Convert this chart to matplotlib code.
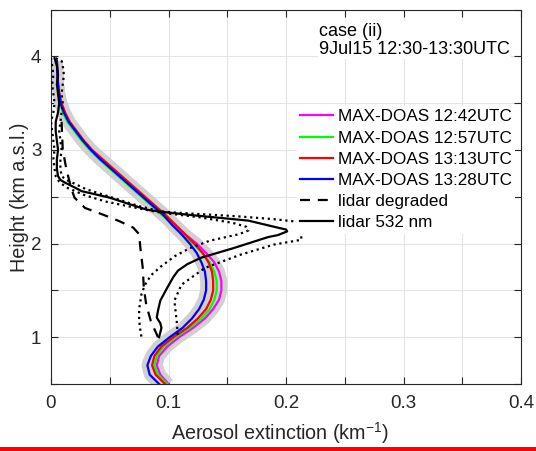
import matplotlib
matplotlib.use("Agg")
import matplotlib.pyplot as plt
from matplotlib.lines import Line2D
from matplotlib.patches import Rectangle
from matplotlib.ticker import MultipleLocator, FixedLocator

plt.rcParams['font.family'] = ['Liberation Sans', 'DejaVu Sans']
plt.rcParams['mathtext.default'] = 'regular'

# ---------------- data ----------------
height_doas = [0.5, 0.6, 0.7, 0.8, 0.9, 1.0, 1.1, 1.2, 1.3, 1.4, 1.5, 1.6, 1.7, 1.8, 1.9, 2.0,
               2.1, 2.2, 2.3, 2.4, 2.5, 2.6, 2.7, 2.8, 2.9, 3.0, 3.1, 3.2, 3.3, 3.4, 3.5, 3.6,
               3.7, 3.8, 3.95]
doas_1242 = [0.100, 0.093, 0.090, 0.092, 0.099, 0.109, 0.121, 0.131, 0.138, 0.143, 0.145, 0.145,
             0.143, 0.139, 0.132, 0.124, 0.114, 0.105, 0.096, 0.087, 0.078, 0.069, 0.060, 0.051,
             0.042, 0.034, 0.027, 0.021, 0.015, 0.011, 0.008, 0.007, 0.006, 0.0055, 0.005]
doas_1257 = [0.099, 0.091, 0.088, 0.090, 0.096, 0.106, 0.118, 0.128, 0.135, 0.139, 0.141, 0.141,
             0.139, 0.135, 0.129, 0.121, 0.112, 0.104, 0.095, 0.086, 0.077, 0.068, 0.059, 0.050,
             0.041, 0.033, 0.026, 0.020, 0.014, 0.010, 0.008, 0.0065, 0.006, 0.0055, 0.005]
doas_1313 = [0.097, 0.089, 0.086, 0.088, 0.094, 0.104, 0.116, 0.125, 0.132, 0.136, 0.138, 0.138,
             0.137, 0.134, 0.129, 0.122, 0.114, 0.106, 0.098, 0.089, 0.080, 0.071, 0.062, 0.053,
             0.044, 0.035, 0.028, 0.022, 0.016, 0.012, 0.009, 0.007, 0.006, 0.0055, 0.005]
doas_1328 = [0.092, 0.084, 0.082, 0.085, 0.091, 0.101, 0.112, 0.120, 0.126, 0.130, 0.132, 0.132,
             0.131, 0.128, 0.124, 0.118, 0.111, 0.103, 0.096, 0.087, 0.078, 0.069, 0.060, 0.051,
             0.042, 0.034, 0.027, 0.021, 0.015, 0.011, 0.008, 0.007, 0.006, 0.0055, 0.005]

lidar_h = [3.98, 3.9, 3.8, 3.7, 3.6, 3.5, 3.4, 3.3, 3.2, 3.1, 3.0, 2.9, 2.8, 2.72, 2.68, 2.65,
           2.60, 2.56, 2.49, 2.42, 2.36, 2.34, 2.31, 2.29, 2.245, 2.17, 2.15, 2.13, 2.09, 2.07,
           1.95, 1.85, 1.78, 1.71, 1.64, 1.53, 1.39, 1.28, 1.21, 1.15, 1.10, 1.05, 1.0]
lidar_ext = [0.003, 0.005, 0.006, 0.005, 0.006, 0.007, 0.006, 0.004, 0.004, 0.005, 0.006, 0.005,
             0.005, 0.006, 0.008, 0.012, 0.020, 0.026, 0.050, 0.067, 0.082, 0.094, 0.115, 0.131,
             0.168, 0.193, 0.200, 0.201, 0.193, 0.185, 0.155, 0.128, 0.116, 0.108, 0.104, 0.099,
             0.093, 0.091, 0.090, 0.093, 0.094, 0.093, 0.092]

lidar_lo_h = [3.98, 3.9, 3.8, 3.7, 3.6, 3.5, 3.4, 3.3, 3.2, 3.1, 3.0, 2.9, 2.8, 2.72, 2.66, 2.60,
              2.52, 2.45, 2.40, 2.35, 2.33, 2.28, 2.22, 2.18, 2.14, 2.10, 2.03, 1.95, 1.87, 1.76,
              1.66, 1.56, 1.46, 1.30, 1.18, 1.08, 1.00]
lidar_lo = [0.000, 0.001, 0.002, 0.001, 0.002, 0.003, 0.002, 0.000, 0.001, 0.002, 0.003, 0.002,
            0.003, 0.004, 0.007, 0.013, 0.028, 0.046, 0.065, 0.085, 0.094, 0.127, 0.155, 0.166,
            0.168, 0.160, 0.135, 0.118, 0.106, 0.094, 0.085, 0.080, 0.077, 0.075, 0.075, 0.076,
            0.077]

lidar_hi_h = [3.98, 3.95, 3.9, 3.8, 3.7, 3.6, 3.5, 3.4, 3.3, 3.2, 3.1, 3.0, 2.9, 2.8, 2.72, 2.68,
              2.64, 2.58, 2.52, 2.46, 2.40, 2.36, 2.34, 2.32, 2.29, 2.26, 2.23, 2.20, 2.04, 1.99,
              1.88, 1.74, 1.56, 1.39, 1.17, 1.00]
lidar_hi = [0.004, 0.009, 0.010, 0.011, 0.010, 0.009, 0.010, 0.009, 0.008, 0.007, 0.008, 0.009,
            0.008, 0.008, 0.009, 0.013, 0.020, 0.030, 0.045, 0.060, 0.075, 0.088, 0.096, 0.120,
            0.160, 0.190, 0.212, 0.213, 0.213, 0.190, 0.161, 0.131, 0.111, 0.105, 0.107, 0.108]

degr_h = [3.30, 3.0, 2.8, 2.70, 2.60, 2.49, 2.38, 2.31, 2.24, 2.17, 2.10, 1.96, 1.75, 1.53, 1.35,
          1.17, 1.03, 1.0]
degr_ext = [0.009, 0.010, 0.013, 0.015, 0.017, 0.020, 0.029, 0.044, 0.058, 0.070, 0.075, 0.076,
            0.078, 0.079, 0.081, 0.085, 0.090, 0.091]

doas_labels = ['MAX-DOAS 12:42UTC', 'MAX-DOAS 12:57UTC', 'MAX-DOAS 13:13UTC', 'MAX-DOAS 13:28UTC']
doas_colors = ['#ff00ff', '#00ff00', '#ff0000', '#0000ff']
xticks = [0, 0.1, 0.2, 0.3, 0.4]
xtick_labels = ['0', '0.1', '0.2', '0.3', '0.4']
yticks = [1, 2, 3, 4]

# ---------------- figure ----------------
W, H = 536, 451
fig = plt.figure(figsize=(W / 100, H / 100), dpi=100)
ax = fig.add_axes([51 / W, 1 - 384 / H, (521 - 51) / W, (384 - 9.5) / H])

dark = '#262626'
doas_series = [doas_1242, doas_1257, doas_1313, doas_1328]

# grey spread band
for s in doas_series:
    ax.plot(s, height_doas, color='#d0d0d0', lw=8.5, solid_capstyle='butt', zorder=1)

for s, c in zip(doas_series, doas_colors):
    ax.plot(s, height_doas, color=c, lw=1.6, zorder=3)

ax.plot(degr_ext, degr_h, color='k', lw=1.6, dashes=(4.5, 3.5), zorder=4)
ax.plot(lidar_lo, lidar_lo_h, color='k', lw=1.6, ls=':', zorder=4)
ax.plot(lidar_hi, lidar_hi_h, color='k', lw=1.6, ls=':', zorder=4)
ax.plot(lidar_ext, lidar_h, color='k', lw=1.6, zorder=5)

ax.set_xlim(0, 0.4)
ax.set_ylim(0.5, 4.5)
ax.xaxis.set_major_locator(FixedLocator(xticks))
ax.set_xticklabels(xtick_labels)
ax.xaxis.set_minor_locator(MultipleLocator(0.05))
ax.yaxis.set_major_locator(FixedLocator(yticks))
ax.yaxis.set_minor_locator(MultipleLocator(0.5))
ax.grid(True, which='both', color='#e4e4e4', lw=0.8, zorder=0)
ax.set_axisbelow(True)
ax.tick_params(which='both', direction='in', length=5, width=0.8, colors=dark,
               top=True, right=True, labelsize=13.5)
ax.tick_params(axis='x', pad=8)
ax.tick_params(axis='y', pad=7)
for sp in ax.spines.values():
    sp.set_color(dark)
    sp.set_linewidth(0.8)

ax.set_xlabel('Aerosol extinction (km$^{-1}$)', fontsize=14.2, color=dark, labelpad=6)
ax.xaxis.label.set_x(0.487)
ax.set_ylabel('Height (km a.s.l.)', fontsize=14.2, color=dark, labelpad=1.5)

handles = [Line2D([], [], color=c, lw=1.6) for c in doas_colors]
handles.append(Line2D([], [], color='k', lw=1.6, dashes=(4.5, 3.5)))
handles.append(Line2D([], [], color='k', lw=1.6))
labels = doas_labels + ['lidar degraded', 'lidar 532 nm']
leg = ax.legend(handles, labels, loc='upper left', bbox_to_anchor=(296.6 / W, 1 - 106.0 / H),
                bbox_transform=fig.transFigure, borderaxespad=0, borderpad=0.2,
                frameon=True, fancybox=False, framealpha=1, edgecolor='none',
                fontsize=12.3, handlelength=1.93, handletextpad=0.29, labelspacing=0.36)
leg.set_zorder(10)

fig.text(319 / W, 1 - 22.5 / H, 'case (ii)\n9Jul15 12:30-13:30UTC', ha='left', va='top',
         fontsize=13, linespacing=1.1, color='k',
         bbox=dict(facecolor='white', edgecolor='none', pad=1), zorder=10)

fig.patches.append(Rectangle((0, 0), 1, 4.5 / H, transform=fig.transFigure,
                             facecolor='#ff0000', edgecolor='none', zorder=20))

fig.savefig('out.png', dpi=100)
